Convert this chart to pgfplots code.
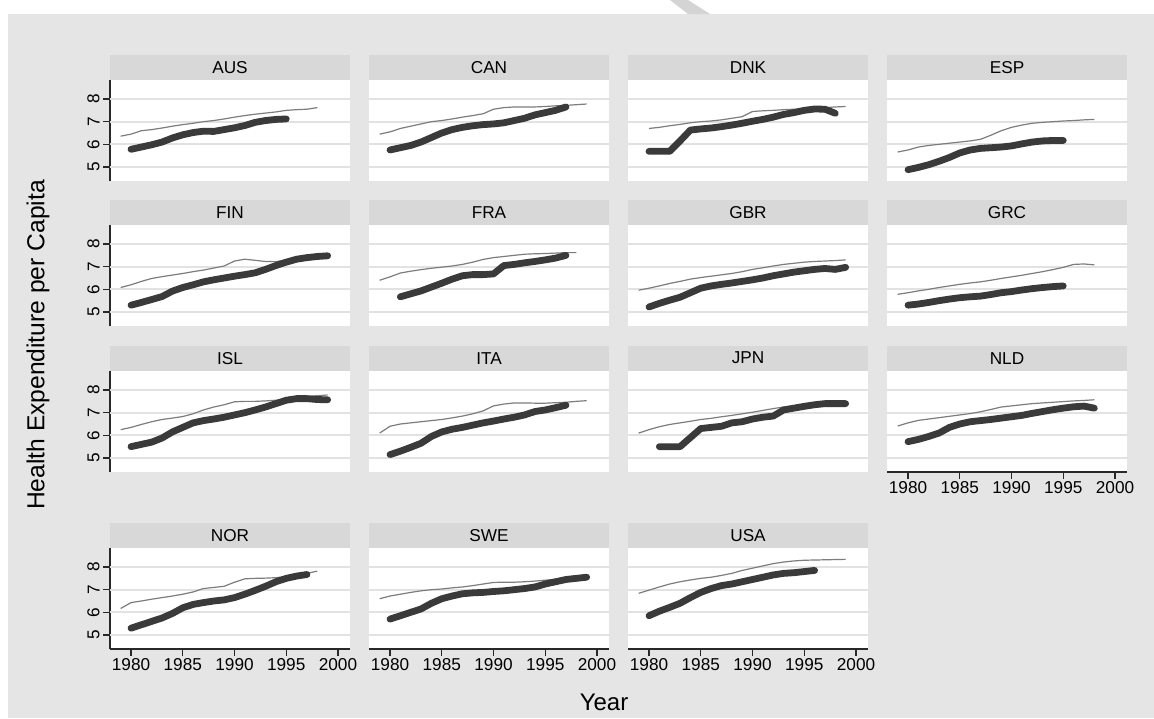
\documentclass[border=0pt]{standalone}
\usepackage{pgfplots}
\pgfplotsset{compat=1.18}
\usepackage{fontspec}
\setmainfont{Liberation Sans}
\definecolor{bgc}{RGB}{229,229,229}
\definecolor{hdr}{RGB}{216,216,216}
\definecolor{gridc}{RGB}{226,226,226}
\definecolor{thinc}{RGB}{125,125,125}
\definecolor{thickc}{RGB}{58,58,58}
\definecolor{axc}{RGB}{40,40,40}
\definecolor{stripe}{RGB}{212,212,212}
\pgfplotsset{
  panel/.style={width=120pt, height=50.5pt, scale only axis, anchor=north west,
    xmin=1977.97, xmax=2001.16, ymin=4.38, ymax=8.84,
    axis background/.style={fill=white},
    /pgf/number format/assume math mode=true,
    /pgf/number format/1000 sep={},
    tick align=outside, major tick length=3.5pt,
    tick style={draw=axc, line width=0.6pt},
    ticklabel style={font=\fontsize{8.6}{10}\selectfont},
    every axis title/.style={at={(0.5,1)}, anchor=south, fill=hdr,
      minimum width=120pt, minimum height=12.5pt, inner sep=0pt,
      font=\fontsize{8.6}{9}\selectfont},
  },
  leftcol/.style={axis y line*=left, ytick={5,6,7,8},
    y axis line style={-, draw=axc, line width=0.6pt},
    yticklabel style={rotate=90, anchor=south, inner sep=1.5pt}},
  restcol/.style={axis y line=none},
  bottomrow/.style={axis x line*=bottom, xtick={1980,1985,1990,1995,2000},
    x axis line style={-, draw=axc, line width=0.6pt},
    xticklabel style={anchor=north, inner sep=1pt}},
  toprow/.style={axis x line=none},
  thinline/.style={draw=thinc, line width=0.6pt, no markers},
  thickline/.style={draw=thickc, line width=3.4pt, no markers, line cap=round, line join=round},
}
\newcommand{\panel}[6]{%
\begin{axis}[panel, at={(#1*0.5pt,-#2*0.5pt)}, title={#3}, #4]
\draw[gridc, line width=1pt] (axis cs:1977,5) -- (axis cs:2002,5);
\draw[gridc, line width=1pt] (axis cs:1977,6) -- (axis cs:2002,6);
\draw[gridc, line width=1pt] (axis cs:1977,7) -- (axis cs:2002,7);
\draw[gridc, line width=1pt] (axis cs:1977,8) -- (axis cs:2002,8);
\addplot[thinline] coordinates {#5};
\addplot[thickline] coordinates {#6};
\end{axis}}
\begin{document}
\begin{tikzpicture}
\fill[white] (0,0) rectangle (577pt,-359pt);
\fill[bgc] (4pt,-7pt) rectangle (577pt,-359pt);
\fill[stripe] (335pt,0pt) -- (344pt,0pt) -- (355pt,-7pt) -- (344pt,-7pt) -- cycle;

\panel{110}{80}{AUS}{leftcol,toprow}
{(1979,6.36)(1980,6.45)(1981,6.6)(1982,6.65)(1983,6.72)(1984,6.8)(1985,6.87)(1986,6.93)(1987,7.0)(1988,7.05)(1989,7.12)(1990,7.2)(1991,7.27)(1992,7.33)(1993,7.38)(1994,7.43)(1995,7.5)(1996,7.53)(1997,7.55)(1998,7.62)}
{(1980,5.78)(1981,5.88)(1982,5.98)(1983,6.1)(1984,6.28)(1985,6.42)(1986,6.52)(1987,6.58)(1988,6.57)(1989,6.65)(1990,6.73)(1991,6.83)(1992,6.97)(1993,7.05)(1994,7.1)(1995,7.12)}

\panel{369}{80}{CAN}{restcol,toprow}
{(1979,6.45)(1980,6.55)(1981,6.7)(1982,6.8)(1983,6.9)(1984,7.0)(1985,7.05)(1986,7.12)(1987,7.2)(1988,7.27)(1989,7.35)(1990,7.55)(1991,7.62)(1992,7.65)(1993,7.65)(1994,7.65)(1995,7.67)(1996,7.7)(1997,7.72)(1998,7.75)(1999,7.78)}
{(1980,5.75)(1981,5.85)(1982,5.95)(1983,6.1)(1984,6.3)(1985,6.5)(1986,6.65)(1987,6.75)(1988,6.82)(1989,6.87)(1990,6.9)(1991,6.95)(1992,7.05)(1993,7.15)(1994,7.3)(1995,7.4)(1996,7.5)(1997,7.65)}

\panel{628}{80}{DNK}{restcol,toprow}
{(1980,6.7)(1981,6.75)(1982,6.82)(1983,6.88)(1984,6.95)(1985,7.0)(1986,7.03)(1987,7.08)(1988,7.15)(1989,7.22)(1990,7.45)(1991,7.48)(1992,7.5)(1993,7.53)(1994,7.55)(1995,7.57)(1996,7.6)(1997,7.62)(1998,7.65)(1999,7.67)}
{(1980,5.69)(1981,5.69)(1982,5.69)(1983,6.15)(1984,6.63)(1985,6.68)(1986,6.72)(1987,6.78)(1988,6.85)(1989,6.93)(1990,7.02)(1991,7.1)(1992,7.2)(1993,7.32)(1994,7.4)(1995,7.5)(1996,7.56)(1997,7.55)(1998,7.37)}

\panel{887}{80}{ESP}{restcol,toprow}
{(1979,5.66)(1980,5.75)(1981,5.88)(1982,5.95)(1983,6.0)(1984,6.05)(1985,6.1)(1986,6.15)(1987,6.22)(1988,6.4)(1989,6.6)(1990,6.75)(1991,6.85)(1992,6.93)(1993,6.97)(1994,7.0)(1995,7.03)(1996,7.05)(1997,7.08)(1998,7.1)}
{(1980,4.88)(1981,4.98)(1982,5.1)(1983,5.25)(1984,5.42)(1985,5.62)(1986,5.75)(1987,5.82)(1988,5.85)(1989,5.88)(1990,5.93)(1991,6.02)(1992,6.1)(1993,6.15)(1994,6.17)(1995,6.17)}

\panel{110}{225}{FIN}{leftcol,toprow}
{(1979,6.08)(1980,6.2)(1981,6.35)(1982,6.48)(1983,6.56)(1984,6.63)(1985,6.7)(1986,6.78)(1987,6.85)(1988,6.94)(1989,7.03)(1990,7.25)(1991,7.33)(1992,7.28)(1993,7.23)(1994,7.22)(1995,7.3)(1996,7.37)(1997,7.42)(1998,7.47)(1999,7.51)}
{(1980,5.3)(1981,5.42)(1982,5.55)(1983,5.68)(1984,5.92)(1985,6.08)(1986,6.2)(1987,6.33)(1988,6.42)(1989,6.5)(1990,6.58)(1991,6.65)(1992,6.73)(1993,6.88)(1994,7.05)(1995,7.2)(1996,7.33)(1997,7.4)(1998,7.45)(1999,7.48)}

\panel{369}{225}{FRA}{restcol,toprow}
{(1979,6.4)(1980,6.55)(1981,6.72)(1982,6.8)(1983,6.87)(1984,6.93)(1985,6.98)(1986,7.03)(1987,7.1)(1988,7.2)(1989,7.32)(1990,7.4)(1991,7.45)(1992,7.5)(1993,7.55)(1994,7.57)(1995,7.58)(1996,7.6)(1997,7.62)(1998,7.62)}
{(1981,5.67)(1982,5.8)(1983,5.93)(1984,6.1)(1985,6.27)(1986,6.45)(1987,6.6)(1988,6.65)(1989,6.65)(1990,6.68)(1991,7.05)(1992,7.1)(1993,7.17)(1994,7.23)(1995,7.3)(1996,7.38)(1997,7.5)}

\panel{628}{225}{GBR}{restcol,toprow}
{(1979,5.96)(1980,6.05)(1981,6.15)(1982,6.26)(1983,6.35)(1984,6.45)(1985,6.52)(1986,6.58)(1987,6.64)(1988,6.7)(1989,6.78)(1990,6.88)(1991,6.95)(1992,7.03)(1993,7.1)(1994,7.15)(1995,7.2)(1996,7.23)(1997,7.25)(1998,7.27)(1999,7.3)}
{(1980,5.22)(1981,5.38)(1982,5.52)(1983,5.65)(1984,5.85)(1985,6.05)(1986,6.15)(1987,6.22)(1988,6.28)(1989,6.35)(1990,6.42)(1991,6.5)(1992,6.6)(1993,6.68)(1994,6.76)(1995,6.82)(1996,6.88)(1997,6.92)(1998,6.88)(1999,6.97)}

\panel{887}{225}{GRC}{restcol,toprow}
{(1979,5.78)(1980,5.85)(1981,5.93)(1982,6.0)(1983,6.08)(1984,6.15)(1985,6.22)(1986,6.28)(1987,6.33)(1988,6.4)(1989,6.48)(1990,6.55)(1991,6.62)(1992,6.7)(1993,6.78)(1994,6.87)(1995,6.97)(1996,7.1)(1997,7.12)(1998,7.08)}
{(1980,5.3)(1981,5.35)(1982,5.42)(1983,5.5)(1984,5.57)(1985,5.63)(1986,5.67)(1987,5.7)(1988,5.77)(1989,5.85)(1990,5.9)(1991,5.97)(1992,6.03)(1993,6.08)(1994,6.12)(1995,6.15)}

\panel{110}{371}{ISL}{leftcol,toprow}
{(1979,6.25)(1980,6.35)(1981,6.48)(1982,6.6)(1983,6.7)(1984,6.76)(1985,6.83)(1986,6.95)(1987,7.12)(1988,7.25)(1989,7.35)(1990,7.48)(1991,7.5)(1992,7.5)(1993,7.52)(1994,7.55)(1995,7.6)(1996,7.7)(1997,7.72)(1998,7.75)(1999,7.78)}
{(1980,5.5)(1981,5.6)(1982,5.7)(1983,5.88)(1984,6.15)(1985,6.35)(1986,6.55)(1987,6.65)(1988,6.72)(1989,6.8)(1990,6.9)(1991,7.0)(1992,7.12)(1993,7.25)(1994,7.4)(1995,7.55)(1996,7.62)(1997,7.62)(1998,7.58)(1999,7.57)}

\panel{369}{371}{ITA}{restcol,toprow}
{(1979,6.1)(1980,6.4)(1981,6.5)(1982,6.55)(1983,6.6)(1984,6.65)(1985,6.7)(1986,6.77)(1987,6.85)(1988,6.95)(1989,7.08)(1990,7.3)(1991,7.38)(1992,7.43)(1993,7.43)(1994,7.42)(1995,7.42)(1996,7.44)(1997,7.46)(1998,7.5)(1999,7.53)}
{(1980,5.15)(1981,5.3)(1982,5.47)(1983,5.65)(1984,5.95)(1985,6.15)(1986,6.27)(1987,6.35)(1988,6.45)(1989,6.55)(1990,6.63)(1991,6.72)(1992,6.8)(1993,6.9)(1994,7.05)(1995,7.12)(1996,7.22)(1997,7.33)}

\panel{628}{371}{JPN}{restcol,toprow}
{(1979,6.1)(1980,6.25)(1981,6.38)(1982,6.48)(1983,6.55)(1984,6.62)(1985,6.7)(1986,6.75)(1987,6.82)(1988,6.88)(1989,6.95)(1990,7.02)(1991,7.1)(1992,7.18)(1993,7.25)(1994,7.3)(1995,7.35)(1996,7.4)(1997,7.43)(1998,7.45)(1999,7.47)}
{(1981,5.5)(1982,5.5)(1983,5.5)(1984,5.9)(1985,6.3)(1986,6.35)(1987,6.4)(1988,6.55)(1989,6.6)(1990,6.72)(1991,6.8)(1992,6.85)(1993,7.12)(1994,7.2)(1995,7.28)(1996,7.35)(1997,7.4)(1998,7.4)(1999,7.4)}

\panel{887}{371}{NLD}{restcol,bottomrow}
{(1979,6.41)(1980,6.55)(1981,6.66)(1982,6.72)(1983,6.78)(1984,6.84)(1985,6.9)(1986,6.96)(1987,7.04)(1988,7.14)(1989,7.25)(1990,7.3)(1991,7.35)(1992,7.4)(1993,7.43)(1994,7.46)(1995,7.49)(1996,7.52)(1997,7.54)(1998,7.57)}
{(1980,5.72)(1981,5.82)(1982,5.95)(1983,6.1)(1984,6.35)(1985,6.5)(1986,6.6)(1987,6.65)(1988,6.7)(1989,6.76)(1990,6.82)(1991,6.88)(1992,6.97)(1993,7.05)(1994,7.13)(1995,7.2)(1996,7.26)(1997,7.29)(1998,7.2)}

\panel{110}{548}{NOR}{leftcol,bottomrow}
{(1979,6.17)(1980,6.43)(1981,6.5)(1982,6.58)(1983,6.65)(1984,6.72)(1985,6.8)(1986,6.9)(1987,7.05)(1988,7.1)(1989,7.15)(1990,7.33)(1991,7.48)(1992,7.5)(1993,7.51)(1994,7.53)(1995,7.58)(1996,7.65)(1997,7.72)(1998,7.82)}
{(1980,5.3)(1981,5.45)(1982,5.6)(1983,5.75)(1984,5.95)(1985,6.2)(1986,6.35)(1987,6.43)(1988,6.5)(1989,6.55)(1990,6.65)(1991,6.8)(1992,6.97)(1993,7.15)(1994,7.35)(1995,7.5)(1996,7.6)(1997,7.67)}

\panel{369}{548}{SWE}{restcol,bottomrow}
{(1979,6.6)(1980,6.72)(1981,6.8)(1982,6.88)(1983,6.95)(1984,7.0)(1985,7.03)(1986,7.08)(1987,7.12)(1988,7.18)(1989,7.25)(1990,7.32)(1991,7.33)(1992,7.33)(1993,7.35)(1994,7.38)(1995,7.42)(1996,7.46)(1997,7.5)(1998,7.55)(1999,7.6)}
{(1980,5.7)(1981,5.85)(1982,6.0)(1983,6.15)(1984,6.4)(1985,6.6)(1986,6.72)(1987,6.82)(1988,6.86)(1989,6.88)(1990,6.92)(1991,6.95)(1992,7.0)(1993,7.05)(1994,7.12)(1995,7.25)(1996,7.35)(1997,7.45)(1998,7.5)(1999,7.55)}

\panel{628}{548}{USA}{restcol,bottomrow}
{(1979,6.84)(1980,6.98)(1981,7.12)(1982,7.25)(1983,7.35)(1984,7.43)(1985,7.5)(1986,7.55)(1987,7.63)(1988,7.72)(1989,7.85)(1990,7.95)(1991,8.05)(1992,8.15)(1993,8.22)(1994,8.27)(1995,8.3)(1996,8.31)(1997,8.32)(1998,8.33)(1999,8.34)}
{(1980,5.85)(1981,6.05)(1982,6.22)(1983,6.4)(1984,6.65)(1985,6.88)(1986,7.05)(1987,7.18)(1988,7.25)(1989,7.35)(1990,7.45)(1991,7.55)(1992,7.65)(1993,7.72)(1994,7.75)(1995,7.8)(1996,7.85)}

\node[rotate=90, font=\fontsize{12.3}{14}\selectfont] at (19pt,-172.5pt) {Health Expenditure per Capita};
\node[font=\fontsize{12}{14}\selectfont] at (302pt,-351pt) {Year};
\end{tikzpicture}
\end{document}
